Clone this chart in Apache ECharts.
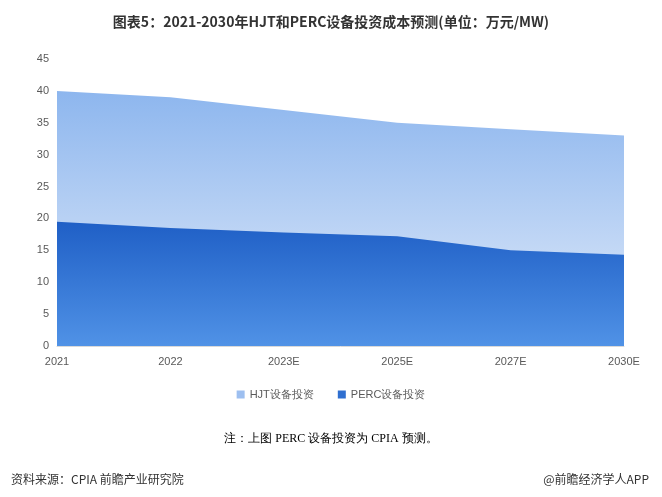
<!DOCTYPE html>
<html><head><meta charset="utf-8">
<script src="https://cdn.jsdelivr.net/npm/echarts@6/dist/echarts.min.js"></script>
<style>html,body{margin:0;padding:0;background:#fff}#c{width:662px;height:497px}</style>
</head><body><div id="c"></div>
<script>
const categories = ['2021','2022','2023E','2025E','2027E','2030E'];
const hjt = [40, 39, 37, 35, 34, 33];
const perc = [19.5, 18.5, 17.8, 17.2, 15, 14.3];
const yTicks = [0,5,10,15,20,25,30,35,40,45];
const chart = echarts.init(document.getElementById('c'));
const G = echarts.graphic.LinearGradient;
chart.setOption({
  animation:false,
  title:[
    {text:'图表5：2021-2030年HJT和PERC设备投资成本预测(单位：万元/MW)',left:'center',top:10,textStyle:{fontSize:14,fontWeight:'bold',color:'#333',fontFamily:'Noto Sans CJK SC'}},
    {text:'注：上图 PERC 设备投资为 CPIA 预测。',left:'center',top:428,textStyle:{fontSize:12,fontWeight:'normal',color:'#000',fontFamily:'serif'}},
    {text:'资料来源：CPIA 前瞻产业研究院',left:6,top:468,textStyle:{fontSize:12,fontWeight:'normal',color:'#333',fontFamily:'Noto Sans CJK SC'}},
    {text:'@前瞻经济学人APP',right:8,top:468,textStyle:{fontSize:12,fontWeight:'normal',color:'#333',fontFamily:'Noto Sans CJK SC'}}
  ],
  legend:{top:384,left:'center',itemWidth:8,itemHeight:8,icon:'rect',itemGap:24,textStyle:{fontSize:11,color:'#595959'},data:['HJT设备投资','PERC设备投资']},
  grid:{left:57,right:38,top:59,bottom:151},
  xAxis:{type:'category',data:categories,boundaryGap:false,axisTick:{show:false},axisLine:{lineStyle:{color:'#d9d9d9'}},axisLabel:{color:'#595959',fontSize:11,margin:10}},
  yAxis:{type:'value',min:0,max:45,interval:5,splitLine:{show:false},axisLine:{show:false},axisTick:{show:false},axisLabel:{color:'#595959',fontSize:11,formatter:v=>yTicks.includes(v)?String(v):''}},
  series:[
    {name:'HJT设备投资',type:'line',data:hjt,symbol:'none',lineStyle:{width:0},itemStyle:{color:'#9dbff0'},
     areaStyle:{opacity:1,origin:'start',color:new G(0,0,0,1,[{offset:0,color:'#8db6ee'},{offset:1,color:'#e3ecfa'}])}},
    {name:'PERC设备投资',type:'line',data:perc,symbol:'none',lineStyle:{width:0},itemStyle:{color:'#2f6fd0'},
     areaStyle:{opacity:1,origin:'start',color:new G(0,0,0,1,[{offset:0,color:'#1f5fc6'},{offset:1,color:'#5092e6'}])}}
  ]
});
</script></body></html>
